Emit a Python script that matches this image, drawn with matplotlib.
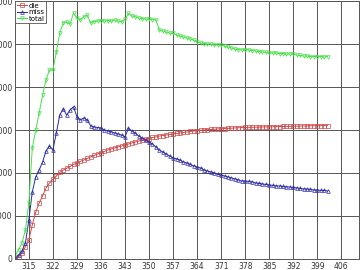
import numpy as np
import matplotlib
matplotlib.use('Agg')
import matplotlib.pyplot as plt

# 数据：每个整数 x 一个点
x = list(range(311, 403))

die = [50, 230, 700, 1400, 2210, 3950, 5470, 6510, 7330, 8260,
       8840, 9250, 9650, 10060, 10350, 10550, 10760, 10990, 11160, 11340,
       11510, 11690, 11860, 12040, 12210, 12330, 12500, 12680, 12790, 12910,
       13030, 13140, 13260, 13370, 13490, 13610, 13720, 13840, 13960, 14010,
       14130, 14190, 14300, 14360, 14420, 14480, 14540, 14600, 14650, 14710,
       14770, 14830, 14890, 14920, 14970, 15000, 15040, 15060, 15080, 15120,
       15140, 15170, 15190, 15210, 15240, 15260, 15280, 15300, 15310, 15320,
       15330, 15340, 15350, 15360, 15370, 15380, 15390, 15400, 15410, 15420,
       15430, 15440, 15450, 15460, 15470, 15480, 15490, 15500, 15500, 15510,
       15510, 15520]

miss = [100, 470, 930, 1860, 4540, 7790, 9540, 10350, 11280, 12560,
        13140, 12680, 14650, 16750, 17450, 16750, 17330, 17710, 16550, 16170,
        16400, 16170, 15470, 15350, 15290, 15240, 15000, 14890, 14770, 14650,
        14540, 14420, 14220, 15180, 14890, 14620, 14300, 14070, 13840, 13610,
        13370, 13030, 12680, 12440, 12210, 11980, 11750, 11630, 11510, 11280,
        11160, 10990, 10820, 10700, 10580, 10350, 10230, 10120, 10000, 9830,
        9770, 9650, 9540, 9420, 9300, 9190, 9070, 9070, 9010, 8960,
        8840, 8780, 8720, 8660, 8610, 8550, 8490, 8490, 8430, 8370,
        8370, 8320, 8260, 8200, 8140, 8140, 8080, 8020, 8020, 7970,
        7970, 7910]

total = [450, 1050, 1860, 3370, 6510, 12910, 15000, 16980, 19070, 20820,
         21980, 21980, 24070, 26280, 27480, 27560, 27330, 28610, 28030, 27800,
         28200, 28380, 27450, 27620, 27680, 27740, 27680, 27740, 27680, 27800,
         27680, 27560, 27910, 28570, 28260, 28200, 28030, 27970, 27910, 27910,
         27850, 27800, 26630, 26520, 26400, 26280, 26230, 26050, 25930, 25820,
         25700, 25590, 25470, 25240, 25120, 25060, 25000, 25000, 24890, 24890,
         24890, 24770, 24660, 24540, 24420, 24360, 24310, 24360, 24310, 24250,
         24190, 24130, 24070, 24020, 23960, 23960, 23960, 23900, 23900, 23840,
         23840, 23840, 23720, 23670, 23610, 23610, 23550, 23550, 23550, 23550,
         23490, 23550]

xticks = list(range(315, 407, 7))
yticks = [0, 5000, 10000, 15000, 20000, 25000, 30000]

fig = plt.figure(figsize=(3.6, 2.7), dpi=100)
ax = fig.add_axes([0.042, 0.041, 0.954, 0.955])

ax.plot(x, die, '-', color='#d04a4a', marker='s', mfc='none', markersize=2.2, linewidth=0.7, mew=0.5, label='die')
ax.plot(x, miss, '-', color='#2a2aa8', marker='^', mfc='none', markersize=2.6, linewidth=0.7, mew=0.5, label='miss')
ax.plot(x, total, '-', color='#48e048', marker='v', mfc='none', markersize=2.6, linewidth=0.7, mew=0.5, label='total')

ax.set_xlim(311, 411)
ax.set_ylim(0, 30000)
ax.set_xticks(xticks)
ax.set_yticks(yticks)
ax.tick_params(length=0, labelsize=5.5, pad=2, colors='#333333')
ax.grid(True, color='#555555', linewidth=0.7)
for s in ax.spines.values():
    s.set_color('#555555')
    s.set_linewidth(0.7)

leg = ax.legend(loc='upper left', fontsize=5, handlelength=1.4, handletextpad=0.3,
                borderpad=0.25, labelspacing=0.05, fancybox=False, framealpha=1,
                borderaxespad=0.0)
leg.get_frame().set_edgecolor('#555555')
leg.get_frame().set_linewidth(0.6)

plt.savefig('out.png', dpi=100)
